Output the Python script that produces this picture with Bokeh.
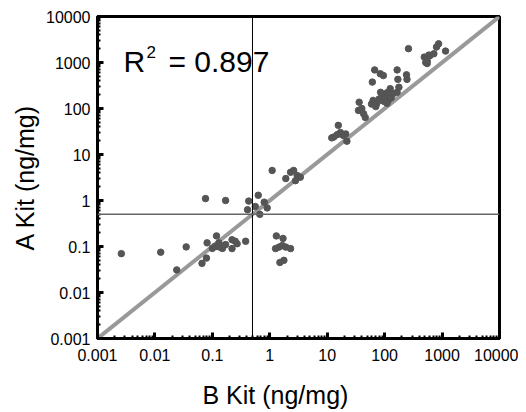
import math
from bokeh.plotting import figure
from bokeh.models import Range1d, FixedTicker, Span, Label, ColumnDataSource, Title
from bokeh.embed import file_html
from bokeh.resources import INLINE

# ---- data ----
b_kit = [0.0026, 0.0126, 0.024, 0.035, 0.066, 0.079, 0.076, 0.081, 0.10, 0.11,
         0.118, 0.12, 0.13, 0.14, 0.15, 0.15, 0.17, 0.17, 0.22, 0.22,
         0.25, 0.27, 0.38, 0.41, 0.43, 0.56, 0.63, 0.67, 0.8, 0.9,
         1.1, 1.9, 2.3, 2.6, 3.0, 3.4, 2.8,
         1.3, 1.7, 1.26, 1.45, 1.65, 1.9, 2.3, 1.5, 1.76,
         15.6, 13, 17, 21, 22, 14.9, 12, 19,
         36, 35, 43, 46, 40, 63, 72, 59, 67, 84, 95, 61, 165, 170, 240, 245,
         125, 177, 165, 85, 90, 100, 110, 95, 115, 120, 105, 85, 100, 125,
         80, 110, 130, 70, 140, 260,
         870, 800, 1150, 720, 490, 550, 520, 610, 590, 550]
a_kit = [0.07, 0.075, 0.031, 0.098, 0.043, 0.056, 1.1, 0.12, 0.091, 0.10,
         0.17, 0.10, 0.12, 0.095, 0.10, 0.091, 0.11, 1.0, 0.09, 0.14,
         0.13, 0.115, 0.13, 0.63, 0.97, 0.74, 1.3, 0.5, 0.92, 0.69,
         4.5, 3.0, 4.1, 4.5, 3.5, 3.2, 2.7,
         0.17, 0.15, 0.09, 0.097, 0.105, 0.097, 0.09, 0.045, 0.05,
         43, 24, 30, 28, 19.5, 27, 23, 26,
         137, 91, 77, 64, 100, 150, 125, 125, 690, 570, 520, 375, 690, 430, 540, 430,
         270, 290, 225, 225, 200, 180, 220, 160, 150, 170, 190, 150, 140, 200,
         160, 130, 170, 110, 210, 2000,
         2550, 2170, 1770, 1550, 1310, 950, 1000, 1400, 1450, 1080]

tick_values = [0.001, 0.01, 0.1, 1, 10, 100, 1000, 10000]
tick_labels = ["0.001", "0.01", "0.1", "1", "10", "100", "1000", "10000"]
identity_line = [0.001, 10000]
cutoff_b = 0.5
cutoff_a = 0.5
r2_parts = ["R", "2", "= 0.897"]
x_title = "B Kit (ng/mg)"
y_title = "A Kit (ng/mg)"

FONT = "Liberation Sans"

p = figure(width=518, height=412, x_axis_type="log", y_axis_type="log",
           x_range=Range1d(0.001, 10000), y_range=Range1d(0.001, 10000),
           output_backend="svg", toolbar_location=None,
           min_border_left=97, min_border_right=19, min_border_top=16, min_border_bottom=74)
p.background_fill_color = "white"
p.border_fill_color = "white"
p.outline_line_color = "black"
p.outline_line_width = 3
p.grid.visible = False

minor = [m * 10 ** d for d in range(-3, 4) for m in range(2, 10)]
for ax in (p.xaxis[0], p.yaxis[0]):
    ax.ticker = FixedTicker(ticks=tick_values, minor_ticks=minor)
    ax.major_label_overrides = {v: s for v, s in zip(tick_values, tick_labels)}
    ax.axis_line_width = 3
    ax.axis_line_color = "black"
    ax.major_tick_in = 6
    ax.major_tick_out = 0
    ax.minor_tick_in = 3
    ax.minor_tick_out = 0
    ax.major_tick_line_width = 3
    ax.minor_tick_line_width = 2
    ax.major_label_text_font = FONT
    ax.major_label_text_font_size = "16px"
    ax.major_label_text_color = "black"
p.xaxis.major_label_standoff = 10
p.yaxis.major_label_standoff = 7
# blank spacer label to push the bottom title down
p.xaxis.axis_label = " "
p.xaxis.axis_label_standoff = 0
p.xaxis.axis_label_text_font_size = "10px"

# reference lines
p.add_layout(Span(location=cutoff_b, dimension="height", line_color="black", line_width=1))
p.add_layout(Span(location=cutoff_a, dimension="width", line_color="#666666", line_width=1.5))

# identity line
p.line(identity_line, identity_line, line_color="#999999", line_width=4)

# points
src = ColumnDataSource(dict(x=b_kit, y=a_kit))
p.scatter("x", "y", source=src, size=6.5, fill_color="#555555", line_color="#555555")

# R^2 annotation (R, superscript 2, rest)
p.add_layout(Label(x=0.001, y=0.001, x_offset=26, y_offset=277, text=r2_parts[0],
                   text_font=FONT, text_font_size="30px", text_color="black",
                   text_baseline="alphabetic", text_align="left"))
p.add_layout(Label(x=0.001, y=0.001, x_offset=49, y_offset=287, text=r2_parts[1],
                   text_font=FONT, text_font_size="17px", text_color="black",
                   text_baseline="alphabetic", text_align="left"))
p.add_layout(Label(x=0.001, y=0.001, x_offset=71, y_offset=277, text=r2_parts[2],
                   text_font=FONT, text_font_size="30px", text_color="black",
                   text_baseline="alphabetic", text_align="left"))

p.add_layout(Title(text=x_title, align="left", offset=105, standoff=3,
                   text_font=FONT, text_font_size="25px", text_font_style="normal",
                   text_color="black"), "below")
p.add_layout(Title(text=y_title, align="center", offset=-4, standoff=10,
                   text_font=FONT, text_font_size="25px", text_font_style="normal",
                   text_color="black"), "left")

open("out.html", "w").write(file_html(p, INLINE))
